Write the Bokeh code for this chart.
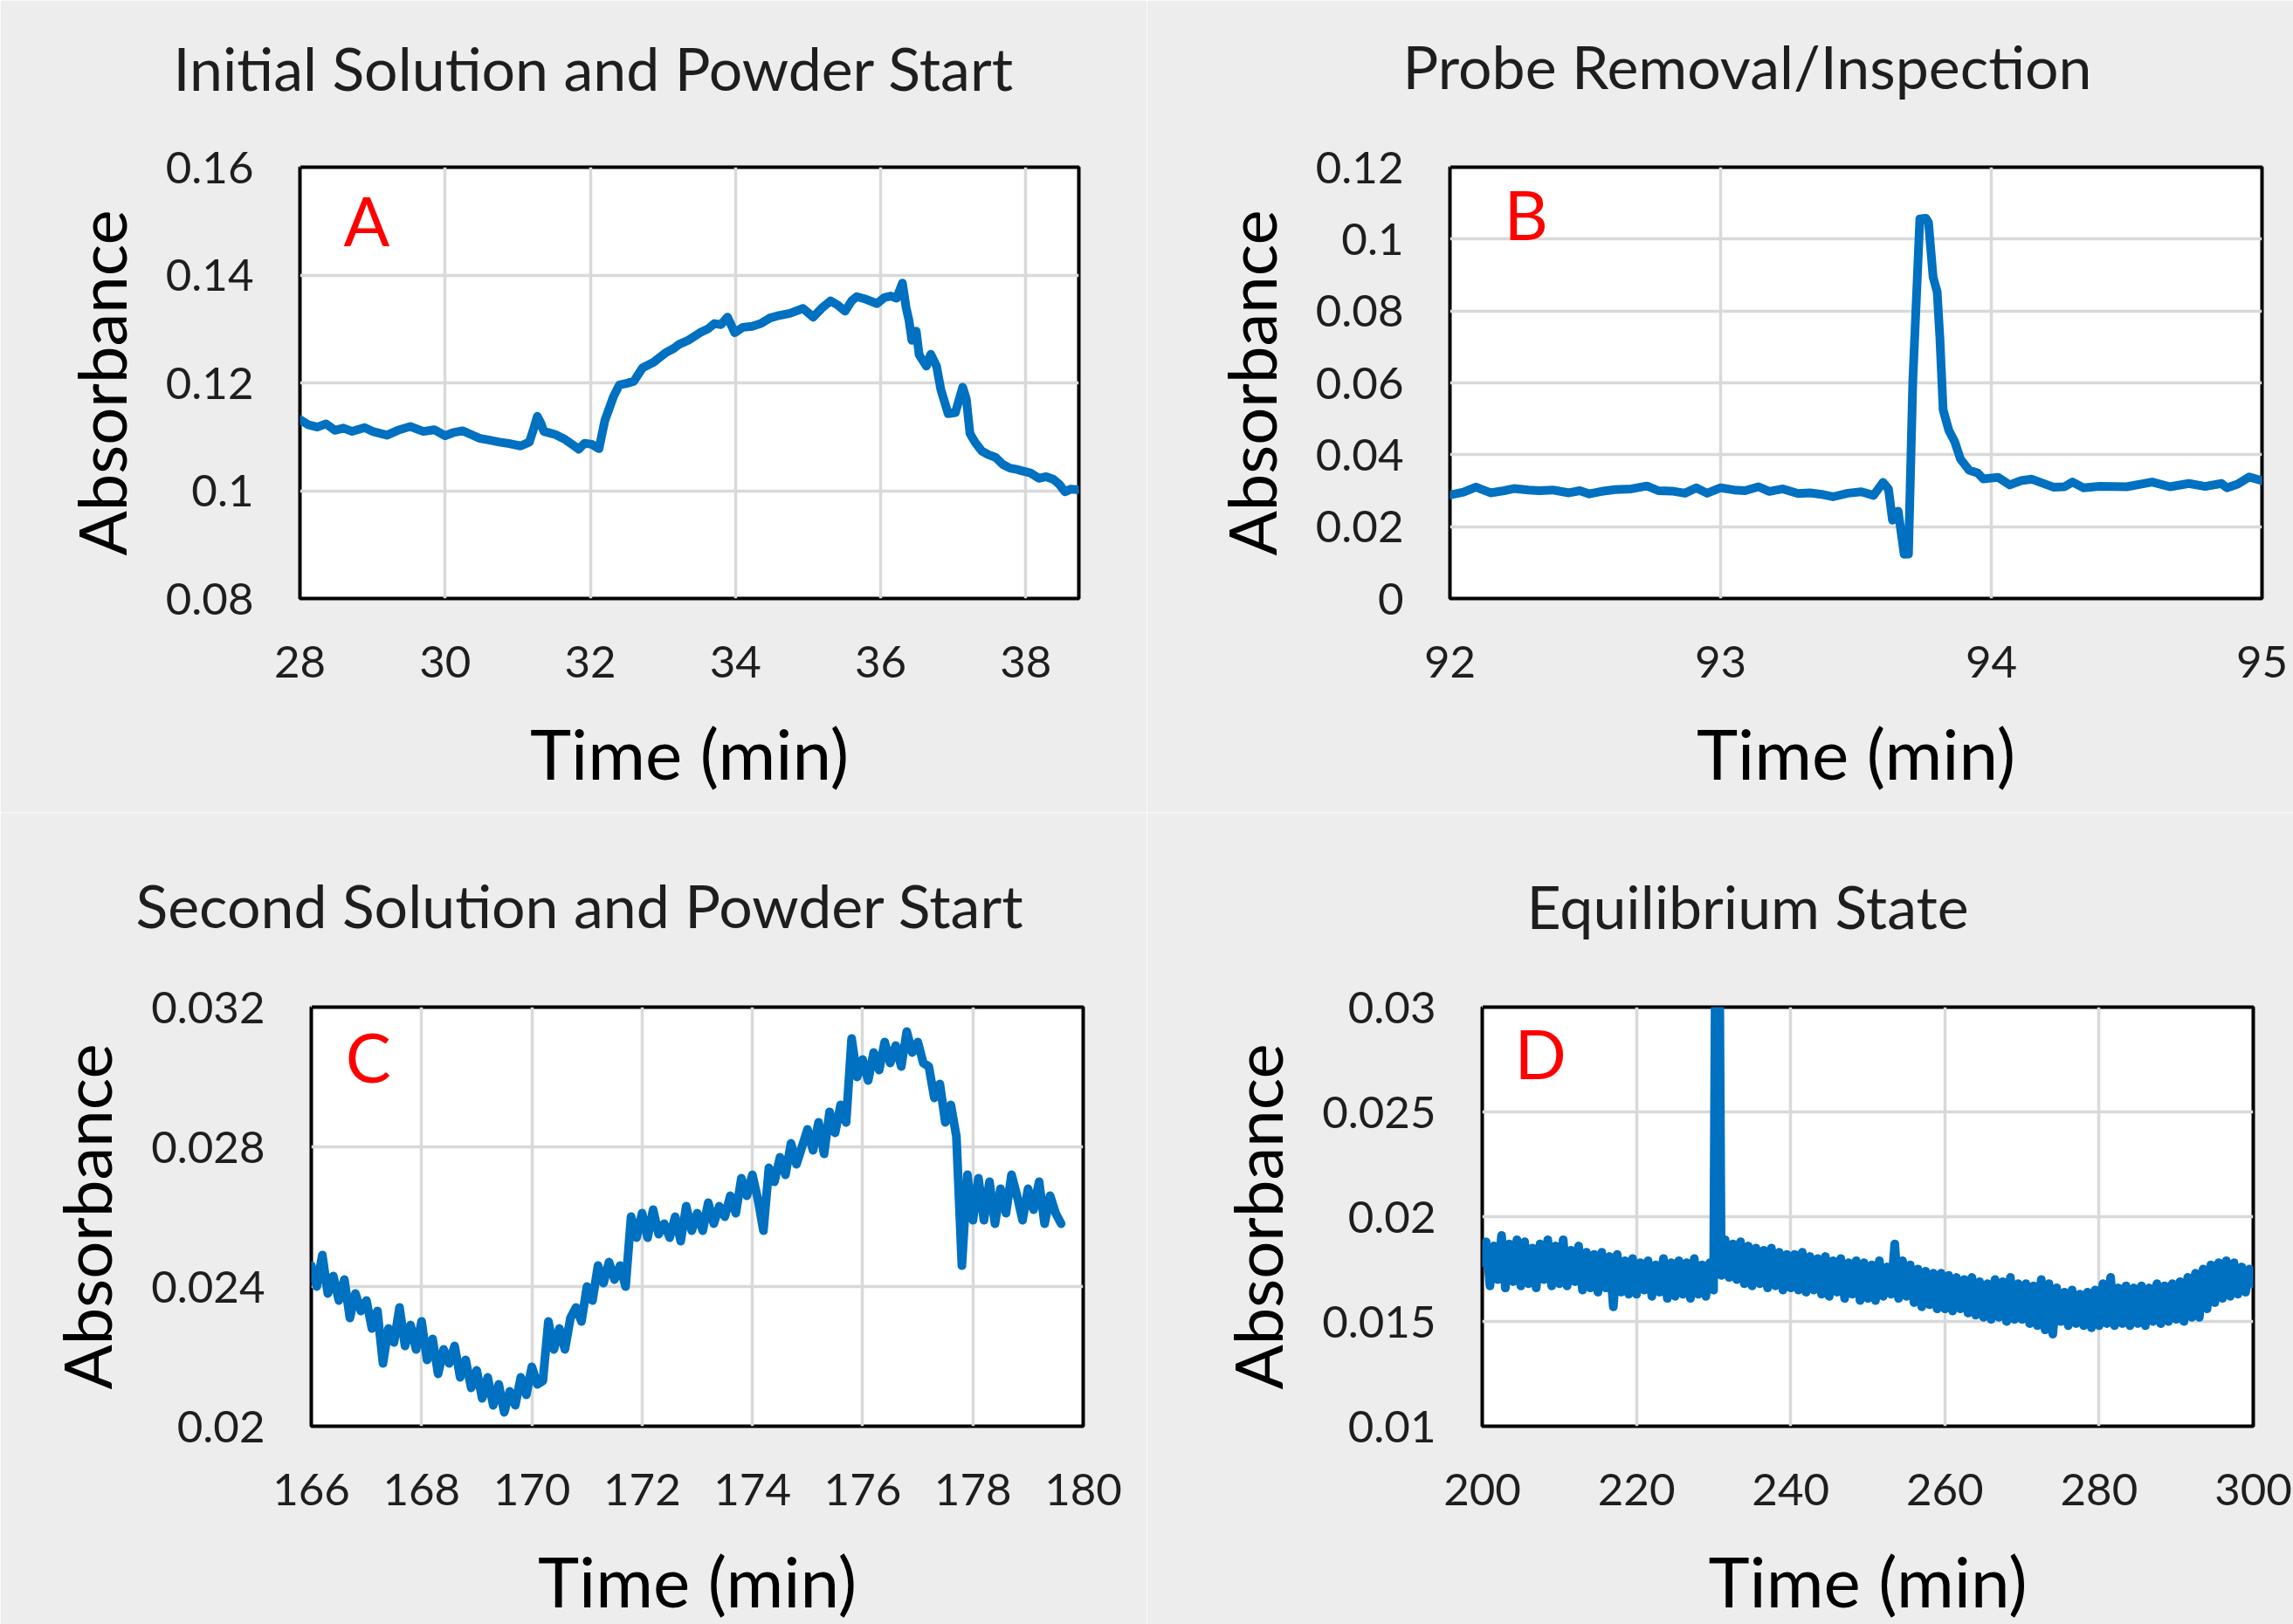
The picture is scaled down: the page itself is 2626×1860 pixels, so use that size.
from bokeh.plotting import figure
from bokeh.layouts import row, column
from bokeh.models import Label, FixedTicker, LinearAxis
from bokeh.embed import file_html
from bokeh.resources import INLINE

# ---------------- data ----------------
A_time = [28.00, 28.12, 28.24, 28.36, 28.48, 28.60, 28.72, 28.89, 29.00, 29.20,
          29.35, 29.52, 29.70, 29.85, 30.00, 30.12, 30.24, 30.36, 30.48, 30.60,
          30.75, 30.90, 31.04, 31.16, 31.22, 31.27, 31.32, 31.36, 31.44, 31.52,
          31.64, 31.76, 31.84, 31.92, 32.02, 32.12, 32.20, 32.32, 32.40, 32.50,
          32.60, 32.72, 32.87, 33.04, 33.15, 33.23, 33.35, 33.51, 33.62, 33.71,
          33.80, 33.89, 33.99, 34.10, 34.23, 34.35, 34.47, 34.60, 34.75, 34.93,
          35.07, 35.20, 35.31, 35.40, 35.51, 35.60, 35.67, 35.80, 35.95, 36.05,
          36.14, 36.22, 36.30, 36.35, 36.39, 36.43, 36.49, 36.53, 36.63, 36.69,
          36.77, 36.83, 36.93, 37.03, 37.13, 37.18, 37.23, 37.30, 37.39, 37.48,
          37.58, 37.68, 37.78, 37.86, 37.94, 38.06, 38.18, 38.28, 38.38, 38.46,
          38.54, 38.62, 38.70]
A_abs = [0.1132, 0.1122, 0.1118, 0.1124, 0.1112, 0.1116, 0.1110, 0.1117, 0.1110, 0.1103,
         0.1112, 0.1119, 0.1110, 0.1113, 0.1102, 0.1108, 0.1111, 0.1104, 0.1097, 0.1094,
         0.1090, 0.1087, 0.1083, 0.1090, 0.1115, 0.1138, 0.1125, 0.1110, 0.1107, 0.1104,
         0.1096, 0.1085, 0.1077, 0.1088, 0.1086, 0.1078, 0.1130, 0.1175, 0.1196, 0.1199,
         0.1203, 0.1228, 0.1238, 0.1256, 0.1264, 0.1272, 0.1279, 0.1293, 0.1300, 0.1310,
         0.1308, 0.1322, 0.1293, 0.1303, 0.1305, 0.1310, 0.1320, 0.1325, 0.1329, 0.1338,
         0.1322, 0.1340, 0.1352, 0.1345, 0.1333, 0.1352, 0.1360, 0.1355, 0.1347, 0.1358,
         0.1361, 0.1357, 0.1385, 0.1340, 0.1316, 0.1279, 0.1296, 0.1252, 0.1231, 0.1253,
         0.1231, 0.1187, 0.1143, 0.1145, 0.1192, 0.1170, 0.1106, 0.1090, 0.1074, 0.1067,
         0.1062, 0.1049, 0.1042, 0.1040, 0.1037, 0.1033, 0.1023, 0.1026, 0.1021, 0.1012,
         0.0998, 0.1003, 0.1002]

B_time = [92.000, 92.050, 92.096, 92.150, 92.200, 92.236, 92.290, 92.330, 92.380, 92.440,
          92.480, 92.515, 92.560, 92.610, 92.670, 92.728, 92.770, 92.820, 92.868, 92.910,
          92.950, 93.000, 93.050, 93.090, 93.140, 93.180, 93.230, 93.286, 93.330, 93.380,
          93.415, 93.470, 93.520, 93.565, 93.600, 93.620, 93.635, 93.656, 93.678, 93.694,
          93.710, 93.736, 93.758, 93.768, 93.785, 93.800, 93.810, 93.822, 93.843, 93.865,
          93.886, 93.918, 93.950, 93.970, 94.025, 94.068, 94.110, 94.150, 94.229, 94.270,
          94.300, 94.340, 94.400, 94.500, 94.594, 94.660, 94.730, 94.790, 94.850, 94.870,
          94.910, 94.953, 95.000]
B_abs = [0.0288, 0.0296, 0.0310, 0.0294, 0.0300, 0.0306, 0.0302, 0.0300, 0.0302, 0.0294,
         0.0300, 0.0291, 0.0298, 0.0303, 0.0305, 0.0313, 0.0300, 0.0299, 0.0293, 0.0308,
         0.0293, 0.0308, 0.0302, 0.0300, 0.0311, 0.0298, 0.0305, 0.0292, 0.0294, 0.0289,
         0.0283, 0.0293, 0.0297, 0.0287, 0.0323, 0.0305, 0.0218, 0.0243, 0.0123, 0.0124,
         0.0605, 0.1056, 0.1058, 0.1046, 0.0894, 0.0853, 0.0725, 0.0525, 0.0468, 0.0436,
         0.0388, 0.0357, 0.0349, 0.0333, 0.0337, 0.0316, 0.0328, 0.0332, 0.0310, 0.0311,
         0.0324, 0.0308, 0.0312, 0.0311, 0.0324, 0.0311, 0.0320, 0.0312, 0.0320, 0.0308,
         0.0318, 0.0338, 0.0328]

C_time = [166.0, 166.1, 166.2, 166.3, 166.4, 166.5, 166.6, 166.7, 166.8, 166.9,
          167.0, 167.1, 167.2, 167.3, 167.4, 167.5, 167.6, 167.7, 167.8, 167.9,
          168.0, 168.1, 168.2, 168.3, 168.4, 168.5, 168.6, 168.7, 168.8, 168.9,
          169.0, 169.1, 169.2, 169.3, 169.4, 169.5, 169.6, 169.7, 169.8, 169.9,
          170.0, 170.1, 170.2, 170.3, 170.4, 170.5, 170.6, 170.7, 170.8, 170.9,
          171.0, 171.1, 171.2, 171.3, 171.4, 171.5, 171.6, 171.7, 171.8, 171.9,
          172.0, 172.1, 172.2, 172.3, 172.4, 172.5, 172.6, 172.7, 172.8, 172.9,
          173.0, 173.1, 173.2, 173.3, 173.4, 173.5, 173.6, 173.7, 173.8, 173.9,
          174.0, 174.1, 174.2, 174.3, 174.4, 174.5, 174.6, 174.7, 174.8, 174.9,
          175.0, 175.1, 175.2, 175.3, 175.4, 175.5, 175.6, 175.7, 175.8, 175.9,
          176.0, 176.1, 176.2, 176.3, 176.4, 176.5, 176.6, 176.7, 176.8, 176.9,
          177.0, 177.1, 177.2, 177.3, 177.4, 177.5, 177.6, 177.7, 177.8, 177.9,
          178.0, 178.1, 178.2, 178.3, 178.4, 178.5, 178.6, 178.7, 178.8, 178.9,
          179.0, 179.1, 179.2, 179.3, 179.4, 179.5, 179.6]
C_abs = [0.0246, 0.0240, 0.0249, 0.0238, 0.0243, 0.0236, 0.0242, 0.0231, 0.0238, 0.0233,
         0.0236, 0.0228, 0.0233, 0.0218, 0.0228, 0.0224, 0.0234, 0.0223, 0.0229, 0.0222,
         0.0230, 0.0219, 0.0225, 0.0215, 0.0222, 0.0218, 0.0223, 0.0214, 0.0219, 0.0211,
         0.0216, 0.0208, 0.0214, 0.0206, 0.0212, 0.0204, 0.0210, 0.0206, 0.0214, 0.0209,
         0.0217, 0.0212, 0.0213, 0.0230, 0.0222, 0.0228, 0.0222, 0.0231, 0.0234, 0.0230,
         0.0240, 0.0236, 0.0246, 0.0241, 0.0247, 0.0242, 0.0246, 0.0240, 0.0260, 0.0254,
         0.0261, 0.0254, 0.0262, 0.0255, 0.0258, 0.0254, 0.0260, 0.0253, 0.0263, 0.0256,
         0.0261, 0.0256, 0.0264, 0.0258, 0.0263, 0.0260, 0.0266, 0.0261, 0.0271, 0.0266,
         0.0272, 0.0265, 0.0256, 0.0274, 0.0270, 0.0277, 0.0272, 0.0281, 0.0275, 0.0280,
         0.0285, 0.0279, 0.0287, 0.0278, 0.0290, 0.0284, 0.0292, 0.0287, 0.0311, 0.0300,
         0.0305, 0.0299, 0.0307, 0.0302, 0.0310, 0.0304, 0.0309, 0.0303, 0.0313, 0.0307,
         0.0310, 0.0304, 0.0303, 0.0294, 0.0298, 0.0287, 0.0292, 0.0283, 0.0246, 0.0272,
         0.0259, 0.0271, 0.0259, 0.0270, 0.0258, 0.0268, 0.0261, 0.0272, 0.0266, 0.0259,
         0.0268, 0.0262, 0.0270, 0.0258, 0.0266, 0.0261, 0.0258]

D_time = [200.0, 200.5, 201.0, 201.5, 202.0, 202.5, 203.0, 203.5, 204.0, 204.5,
          205.0, 205.5, 206.0, 206.5, 207.0, 207.5, 208.0, 208.5, 209.0, 209.5,
          210.0, 210.5, 211.0, 211.5, 212.0, 212.5, 213.0, 213.5, 214.0, 214.5,
          215.0, 215.5, 216.0, 216.5, 217.0, 217.5, 218.0, 218.5, 219.0, 219.5,
          220.0, 220.5, 221.0, 221.5, 222.0, 222.5, 223.0, 223.5, 224.0, 224.5,
          225.0, 225.5, 226.0, 226.5, 227.0, 227.5, 228.0, 228.5, 229.0, 229.5,
          230.0, 230.5, 231.0, 231.5, 232.0, 232.5, 233.0, 233.5, 234.0, 234.5,
          235.0, 235.5, 236.0, 236.5, 237.0, 237.5, 238.0, 238.5, 239.0, 239.5,
          240.0, 240.5, 241.0, 241.5, 242.0, 242.5, 243.0, 243.5, 244.0, 244.5,
          245.0, 245.5, 246.0, 246.5, 247.0, 247.5, 248.0, 248.5, 249.0, 249.5,
          250.0, 250.5, 251.0, 251.5, 252.0, 252.5, 253.0, 253.5, 254.0, 254.5,
          255.0, 255.5, 256.0, 256.5, 257.0, 257.5, 258.0, 258.5, 259.0, 259.5,
          260.0, 260.5, 261.0, 261.5, 262.0, 262.5, 263.0, 263.5, 264.0, 264.5,
          265.0, 265.5, 266.0, 266.5, 267.0, 267.5, 268.0, 268.5, 269.0, 269.5,
          270.0, 270.5, 271.0, 271.5, 272.0, 272.5, 273.0, 273.5, 274.0, 274.5,
          275.0, 275.5, 276.0, 276.5, 277.0, 277.5, 278.0, 278.5, 279.0, 279.5,
          280.0, 280.5, 281.0, 281.5, 282.0, 282.5, 283.0, 283.5, 284.0, 284.5,
          285.0, 285.5, 286.0, 286.5, 287.0, 287.5, 288.0, 288.5, 289.0, 289.5,
          290.0, 290.5, 291.0, 291.5, 292.0, 292.5, 293.0, 293.5, 294.0, 294.5,
          295.0, 295.5, 296.0, 296.5, 297.0, 297.5, 298.0, 298.5, 299.0, 299.5,
          300.0]
D_abs = [0.0178, 0.0188, 0.0167, 0.0186, 0.0170, 0.0191, 0.0166, 0.0187, 0.0169, 0.0189,
         0.0167, 0.0188, 0.0168, 0.0185, 0.0166, 0.0187, 0.0170, 0.0189, 0.0167, 0.0186,
         0.0168, 0.0189, 0.0167, 0.0184, 0.0169, 0.0186, 0.0165, 0.0183, 0.0166, 0.0182,
         0.0164, 0.0183, 0.0166, 0.0181, 0.0157, 0.0182, 0.0164, 0.0179, 0.0163, 0.0180,
         0.0163, 0.0178, 0.0165, 0.0179, 0.0162, 0.0177, 0.0164, 0.0180, 0.0161, 0.0178,
         0.0162, 0.0179, 0.0163, 0.0178, 0.0161, 0.0180, 0.0163, 0.0177, 0.0162, 0.0178,
         0.0165, 0.0500, 0.0172, 0.0189, 0.0171, 0.0187, 0.0170, 0.0188, 0.0168, 0.0186,
         0.0167, 0.0185, 0.0168, 0.0184, 0.0166, 0.0185, 0.0167, 0.0183, 0.0165, 0.0182,
         0.0166, 0.0182, 0.0165, 0.0183, 0.0164, 0.0181, 0.0165, 0.0180, 0.0163, 0.0181,
         0.0162, 0.0179, 0.0164, 0.0180, 0.0161, 0.0178, 0.0163, 0.0179, 0.0160, 0.0178,
         0.0161, 0.0177, 0.0160, 0.0179, 0.0162, 0.0176, 0.0163, 0.0187, 0.0161, 0.0179,
         0.0162, 0.0177, 0.0159, 0.0175, 0.0157, 0.0174, 0.0158, 0.0173, 0.0156, 0.0173,
         0.0156, 0.0172, 0.0155, 0.0171, 0.0156, 0.0170, 0.0154, 0.0171, 0.0153, 0.0169,
         0.0152, 0.0168, 0.0151, 0.0170, 0.0152, 0.0169, 0.0150, 0.0171, 0.0151, 0.0168,
         0.0151, 0.0168, 0.0149, 0.0167, 0.0148, 0.0170, 0.0146, 0.0168, 0.0144, 0.0166,
         0.0150, 0.0164, 0.0148, 0.0165, 0.0149, 0.0163, 0.0148, 0.0164, 0.0147, 0.0165,
         0.0148, 0.0168, 0.0149, 0.0171, 0.0148, 0.0166, 0.0149, 0.0167, 0.0148, 0.0166,
         0.0149, 0.0167, 0.0148, 0.0166, 0.0150, 0.0168, 0.0149, 0.0167, 0.0150, 0.0168,
         0.0151, 0.0169, 0.0150, 0.0171, 0.0152, 0.0173, 0.0152, 0.0175, 0.0156, 0.0177,
         0.0159, 0.0178, 0.0161, 0.0179, 0.0162, 0.0178, 0.0163, 0.0176, 0.0164, 0.0175,
         0.0168]

# axis ticks / tick labels
A_xticks = [28, 30, 32, 34, 36, 38]
A_xlabels = ["28", "30", "32", "34", "36", "38"]
A_yticks = [0.08, 0.10, 0.12, 0.14, 0.16]
A_ylabels = ["0.08", "0.1", "0.12", "0.14", "0.16"]

B_xticks = [92, 93, 94, 95]
B_xlabels = ["92", "93", "94", "95"]
B_yticks = [0.0, 0.02, 0.04, 0.06, 0.08, 0.10, 0.12]
B_ylabels = ["0", "0.02", "0.04", "0.06", "0.08", "0.1", "0.12"]

C_xticks = [166, 168, 170, 172, 174, 176, 178, 180]
C_xlabels = ["166", "168", "170", "172", "174", "176", "178", "180"]
C_yticks = [0.020, 0.024, 0.028, 0.032]
C_ylabels = ["0.02", "0.024", "0.028", "0.032"]

D_xticks = [200, 220, 240, 260, 280, 300]
D_xlabels = ["200", "220", "240", "260", "280", "300"]
D_yticks = [0.010, 0.015, 0.020, 0.025, 0.030]
D_ylabels = ["0.01", "0.015", "0.02", "0.025", "0.03"]

titles = ["Initial Solution and Powder Start", "Probe Removal/Inspection",
          "Second Solution and Powder Start", "Equilibrium State"]
letters = ["A", "B", "C", "D"]

# ---------------- styling ----------------
BG = "#EDEDED"
LINE = "#0070C0"
GRID = "#D9D9D9"
TXT = "#1E1E1E"
FONT = "Lato"


def panel(title, letter, xs, ys, xr, yr, xt, xl, yt, yl, letter_xy, title_off, title_gap, borders):
    left, right, top, bottom = borders
    p = figure(width=1313, height=930, x_range=xr, y_range=yr, title=title,
               output_backend="svg", toolbar_location=None,
               min_border_left=left, min_border_right=right,
               min_border_top=top, min_border_bottom=bottom)
    p.background_fill_color = "white"
    p.border_fill_color = BG
    p.outline_line_color = "black"
    p.outline_line_width = 4

    xa = p.below[0]
    ya = p.left[0]
    for ax, ticks, labels in ((xa, xt, xl), (ya, yt, yl)):
        ax.ticker = FixedTicker(ticks=ticks)
        ax.major_label_overrides = dict(zip(ticks, labels))
        ax.axis_line_color = None
        ax.major_tick_line_color = None
        ax.minor_tick_line_color = None
        ax.major_label_text_font = FONT
        ax.major_label_text_font_size = "51px"
        ax.major_label_text_color = TXT
        ax.axis_label_text_font = FONT
        ax.axis_label_text_font_style = "normal"
        ax.axis_label_text_color = "black"
    xa.axis_label = "Time (min)"
    ya.axis_label = "Absorbance"
    xa.axis_label_text_font_size = "80px"
    ya.axis_label_text_font_size = "76px"
    xa.major_label_standoff = 48
    ya.major_label_standoff = 47
    xa.axis_label_standoff = 35
    ya.axis_label_standoff = 26

    p.xgrid.grid_line_color = GRID
    p.ygrid.grid_line_color = GRID
    p.xgrid.grid_line_width = 3.5
    p.ygrid.grid_line_width = 3.5

    # blank top axis (one invisible tick at the range start): it only reserves
    # the gap between the frame and the title
    gap = LinearAxis(ticker=FixedTicker(ticks=[xr[0]]), axis_line_color=None,
                     major_tick_in=0, major_tick_out=title_gap, minor_tick_out=0,
                     major_tick_line_color=BG, major_tick_line_width=1,
                     minor_tick_line_color=None,
                     major_label_overrides={xr[0]: ""},
                     major_label_text_font_size="1px", major_label_standoff=0)
    p.add_layout(gap, "above")

    p.title.align = "left"
    p.title.offset = title_off
    p.title.text_font = FONT
    p.title.text_font_size = "68px"
    p.title.text_font_style = "normal"
    p.title.text_color = TXT
    p.title.vertical_align = "bottom"
    p.title.standoff = 10

    p.line(xs, ys, line_color=LINE, line_width=10, line_join="round", line_cap="round")

    p.add_layout(Label(x=letter_xy[0], y=letter_xy[1], text=letter,
                       text_font=FONT, text_font_size="78px", text_color="#FF0000",
                       text_align="left", text_baseline="middle"))
    return p


pA = panel(titles[0], letters[0], A_time, A_abs, (28, 38.73), (0.08, 0.16),
           A_xticks, A_xlabels, A_yticks, A_ylabels, (28.6, 0.1502), -145, 69,
           (343, 78, 189, 245))
pB = panel(titles[1], letters[1], B_time, B_abs, (92, 95), (0.0, 0.12),
           B_xticks, B_xlabels, B_yticks, B_ylabels, (92.2, 0.1069), -54, 71,
           (347, 36, 191, 243))
pC = panel(titles[2], letters[2], C_time, C_abs, (166, 180), (0.020, 0.032),
           C_xticks, C_xlabels, C_yticks, C_ylabels, (166.62, 0.03059), -201, 72,
           (356, 73, 219, 216))
pD = panel(titles[3], letters[3], D_time, D_abs, (200, 300), (0.010, 0.030),
           D_xticks, D_xlabels, D_yticks, D_ylabels, (204.2, 0.02781), 51, 71,
           (384, 46, 223, 211))

layout = column(row(pA, pB), row(pC, pD))

open("out.html", "w").write(file_html(layout, INLINE))
